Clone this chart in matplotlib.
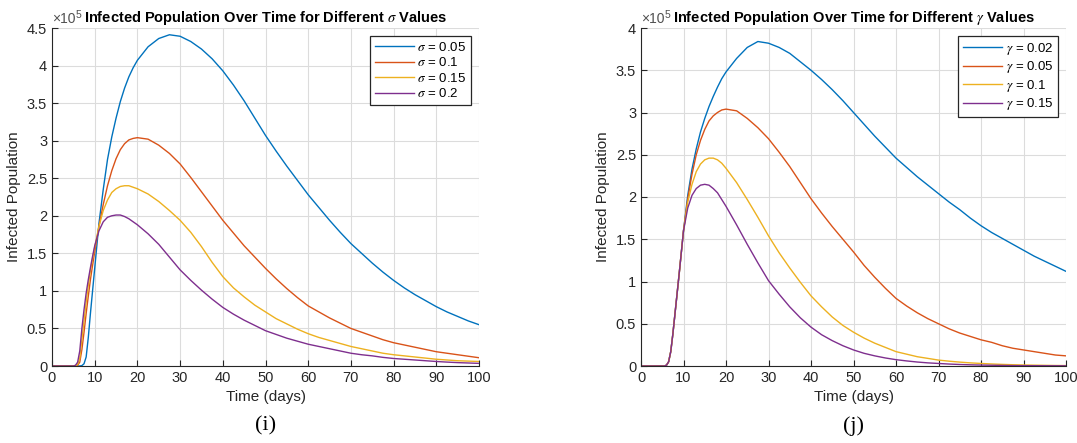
import matplotlib
matplotlib.use('Agg')
import matplotlib.pyplot as plt
from matplotlib.ticker import FuncFormatter, MultipleLocator

plt.rcParams['font.family'] = ['Liberation Sans', 'DejaVu Sans']
plt.rcParams['mathtext.fontset'] = 'stix'

# time samples (days); infected values in units of 1e5 people
t = [0, 5,
     5.5, 6, 6.5, 7, 7.5, 8, 8.5, 9, 9.5, 10,
     11, 12, 13, 14, 15, 16, 17, 18, 19, 20,
     22.5, 25, 27.5, 30, 32.5, 35, 37.5, 40, 42.5, 45, 47.5, 50, 52.5, 55, 57.5, 60,
     62.5, 65, 67.5, 70, 72.5, 75, 77.5, 80, 82.5, 85, 87.5, 90, 92.5, 95, 97.5, 100]

# panel (i): varying sigma
sigma_labels = ['0.05', '0.1', '0.15', '0.2']
I_sig_005 = [0, 0,
             0, 0, 0, 0.005, 0.03, 0.12, 0.38, 0.7, 1.0, 1.3,
             1.9, 2.35, 2.75, 3.05, 3.3, 3.52, 3.7, 3.85, 3.97, 4.07,
             4.25, 4.36, 4.41, 4.39, 4.32, 4.22, 4.09, 3.93, 3.74, 3.53, 3.30, 3.07, 2.86, 2.66, 2.47, 2.28,
             2.11, 1.94, 1.78, 1.63, 1.50, 1.37, 1.25, 1.14, 1.04, 0.95, 0.87, 0.79, 0.72, 0.66, 0.60, 0.55]
I_sig_01 = [0, 0,
            0, 0.01, 0.05, 0.22, 0.45, 0.7, 0.93, 1.15, 1.34, 1.52,
            1.86, 2.15, 2.4, 2.6, 2.76, 2.88, 2.96, 3.01, 3.03, 3.04,
            3.02, 2.94, 2.83, 2.69, 2.51, 2.32, 2.13, 1.94, 1.77, 1.60, 1.45, 1.30, 1.16, 1.03, 0.91, 0.80,
            0.72, 0.64, 0.57, 0.50, 0.45, 0.40, 0.35, 0.31, 0.28, 0.25, 0.22, 0.19, 0.17, 0.15, 0.13, 0.11]
I_sig_015 = [0, 0,
             0.005, 0.02, 0.1, 0.35, 0.6, 0.85, 1.07, 1.27, 1.43, 1.58,
             1.86, 2.07, 2.21, 2.31, 2.36, 2.39, 2.40, 2.40, 2.38, 2.36,
             2.29, 2.19, 2.07, 1.94, 1.78, 1.59, 1.38, 1.19, 1.04, 0.92, 0.81, 0.72, 0.63, 0.56, 0.49, 0.43,
             0.38, 0.34, 0.30, 0.26, 0.23, 0.20, 0.17, 0.15, 0.135, 0.12, 0.105, 0.09, 0.08, 0.07, 0.065, 0.06]
I_sig_02 = [0, 0,
            0.01, 0.05, 0.2, 0.5, 0.75, 0.97, 1.15, 1.31, 1.46, 1.6,
            1.8, 1.92, 1.98, 2.0, 2.01, 2.01, 1.99, 1.96, 1.92, 1.88,
            1.76, 1.62, 1.45, 1.28, 1.14, 1.01, 0.89, 0.78, 0.69, 0.61, 0.54, 0.47, 0.42, 0.37, 0.33, 0.29,
            0.26, 0.23, 0.20, 0.17, 0.15, 0.135, 0.115, 0.10, 0.09, 0.08, 0.07, 0.06, 0.052, 0.045, 0.04, 0.035]

# panel (j): varying gamma
gamma_labels = ['0.02', '0.05', '0.1', '0.15']
I_gam_002 = [0, 0,
             0, 0.01, 0.05, 0.17, 0.38, 0.62, 0.86, 1.1, 1.35, 1.6,
             2.02, 2.33, 2.57, 2.77, 2.93, 3.07, 3.19, 3.3, 3.4, 3.48,
             3.64, 3.77, 3.84, 3.82, 3.77, 3.70, 3.60, 3.50, 3.39, 3.27, 3.14, 3.00, 2.86, 2.72, 2.59, 2.46,
             2.35, 2.24, 2.14, 2.04, 1.94, 1.85, 1.75, 1.66, 1.58, 1.51, 1.44, 1.37, 1.30, 1.24, 1.18, 1.12]
I_gam_005 = [0, 0,
             0, 0.01, 0.05, 0.17, 0.38, 0.62, 0.86, 1.1, 1.35, 1.6,
             1.98, 2.27, 2.5, 2.67, 2.8, 2.9, 2.96, 3.0, 3.03, 3.04,
             3.02, 2.93, 2.82, 2.69, 2.53, 2.36, 2.17, 1.98, 1.81, 1.65, 1.50, 1.35, 1.19, 1.05, 0.92, 0.80,
             0.71, 0.63, 0.56, 0.50, 0.44, 0.39, 0.35, 0.31, 0.28, 0.24, 0.21, 0.19, 0.17, 0.15, 0.13, 0.12]
I_gam_01 = [0, 0,
            0, 0.01, 0.05, 0.17, 0.38, 0.62, 0.86, 1.1, 1.35, 1.6,
            1.94, 2.15, 2.3, 2.39, 2.44, 2.46, 2.46, 2.44, 2.4, 2.34,
            2.17, 1.97, 1.76, 1.54, 1.34, 1.16, 0.99, 0.83, 0.70, 0.58, 0.48, 0.40, 0.33, 0.27, 0.22, 0.17,
            0.14, 0.11, 0.09, 0.07, 0.057, 0.046, 0.037, 0.03, 0.024, 0.019, 0.015, 0.012, 0.01, 0.008, 0.006, 0.005]
I_gam_015 = [0, 0,
             0, 0.01, 0.05, 0.17, 0.38, 0.62, 0.86, 1.1, 1.35, 1.6,
             1.87, 2.02, 2.1, 2.14, 2.15, 2.14, 2.1, 2.05, 1.97, 1.89,
             1.67, 1.44, 1.22, 1.01, 0.85, 0.70, 0.57, 0.46, 0.37, 0.30, 0.24, 0.19, 0.15, 0.12, 0.095, 0.075,
             0.06, 0.047, 0.037, 0.03, 0.023, 0.018, 0.014, 0.011, 0.009, 0.007, 0.005, 0.004, 0.0035, 0.003, 0.0025, 0.002]

colors = ['#0072BD', '#D95319', '#EDB120', '#7E2F8E']


def setup_axes(ax, ymax, symbol, caption):
    ax.set_xlim(0, 100)
    ax.set_ylim(0, ymax)
    ax.xaxis.set_major_locator(MultipleLocator(10))
    ax.yaxis.set_major_locator(MultipleLocator(0.5))
    ax.yaxis.set_major_formatter(FuncFormatter(lambda v, p: '%g' % v))
    ax.grid(True, color='#dcdcdc', lw=0.8)
    ax.set_axisbelow(True)
    for s in ['top', 'right']:
        ax.spines[s].set_visible(False)
    for s in ['left', 'bottom']:
        ax.spines[s].set_color('#262626')
    ax.tick_params(direction='in', length=4, labelsize=10.5, colors='#262626')
    ax.set_xlabel('Time (days)', fontsize=11, color='#262626')
    ax.set_ylabel('Infected Population', fontsize=11, color='#262626')
    ax.set_title('Infected Population Over Time for Different $' + symbol + '$ Values',
                 fontsize=10.5, fontweight='bold', pad=4)
    # exponent marker, MATLAB style
    ax.text(0.0, 1.005, '\u00d710', transform=ax.transAxes, fontsize=10,
            color='#505050', ha='left', va='bottom')
    ax.text(0.056, 1.025, '5', transform=ax.transAxes, fontsize=7.5,
            color='#505050', ha='left', va='bottom')
    ax.text(0.5, -0.178, caption, transform=ax.transAxes, ha='center', va='center',
            fontsize=16, family='Liberation Serif')
    leg = ax.legend(loc='upper right', fontsize=9.5, handlelength=3.0, handletextpad=0.25,
                    fancybox=False, edgecolor='#262626', framealpha=1, borderaxespad=0.6,
                    labelspacing=0.2, borderpad=0.35)
    leg.get_frame().set_linewidth(0.9)


fig = plt.figure(figsize=(10.77, 4.43), dpi=100)
ax1 = fig.add_axes([52 / 1077, 1 - 366 / 443, 427 / 1077, 338 / 443])
ax2 = fig.add_axes([641 / 1077, 1 - 366 / 443, 425 / 1077, 338 / 443])

for y, lab, c in zip([I_sig_005, I_sig_01, I_sig_015, I_sig_02], sigma_labels, colors):
    ax1.plot(t, y, color=c, lw=1.0, label=r'$\sigma$ = ' + lab)
for y, lab, c in zip([I_gam_002, I_gam_005, I_gam_01, I_gam_015], gamma_labels, colors):
    ax2.plot(t, y, color=c, lw=1.0, label=r'$\gamma$ = ' + lab)

setup_axes(ax1, 4.5, r'\sigma', '(i)')
setup_axes(ax2, 4.0, r'\gamma', '(j)')

fig.savefig('out.png', dpi=100)
